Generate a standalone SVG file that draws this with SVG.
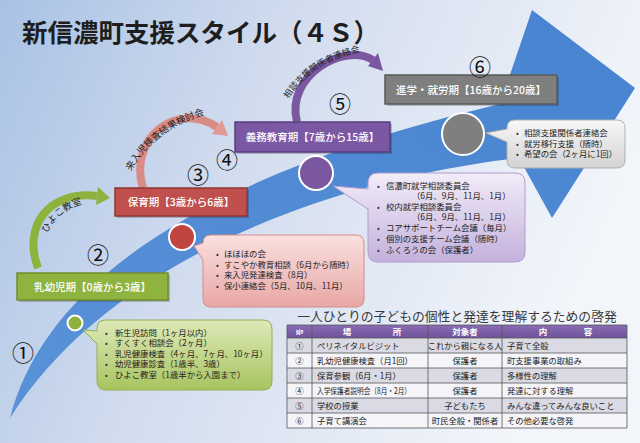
<svg xmlns="http://www.w3.org/2000/svg" width="640" height="443" viewBox="0 0 640 443">
<defs>
<linearGradient id="bg" x1="0" y1="0" x2="1" y2="0.3">
<stop offset="0" stop-color="#a9c2e4"/>
<stop offset="0.45" stop-color="#d3ddef"/>
<stop offset="1" stop-color="#f2f5fa"/>
</linearGradient>
<linearGradient id="arrowG" x1="0" y1="1" x2="1" y2="0">
<stop offset="0" stop-color="#5a92d8"/>
<stop offset="1" stop-color="#4783d0"/>
</linearGradient>
<linearGradient id="gG" x1="0" y1="0" x2="0" y2="1"><stop offset="0" stop-color="#dde9b8"/><stop offset="1" stop-color="#a7c45f"/></linearGradient>
<linearGradient id="gR" x1="0" y1="0" x2="0" y2="1"><stop offset="0" stop-color="#fae0df"/><stop offset="1" stop-color="#e8a7a5"/></linearGradient>
<linearGradient id="gP" x1="0" y1="0" x2="0" y2="1"><stop offset="0" stop-color="#f2ecf8"/><stop offset="1" stop-color="#c4b1dc"/></linearGradient>
<linearGradient id="gK" x1="0" y1="0" x2="0" y2="1"><stop offset="0" stop-color="#f8f8f8"/><stop offset="1" stop-color="#d2d2d2"/></linearGradient>
<linearGradient id="gH" x1="0" y1="0" x2="0" y2="1"><stop offset="0" stop-color="#8a6cb5"/><stop offset="1" stop-color="#6e5399"/></linearGradient>
<path id="tpG" d="M 45 241 Q 52 210 90 202"/>
<path id="tpR" d="M 126 182 Q 150 126 216 112"/>
<path id="tpP" d="M 284 108 Q 306 60 370 50"/>
</defs>
<style>
text{font-family:"Noto Sans CJK JP","Noto Sans",sans-serif;}
.title{font-size:25.5px;font-weight:700;fill:#1e1e1e;}
.lbl{font-size:10.5px;fill:#ffffff;text-anchor:middle;font-weight:500;}
.num{font-size:22px;fill:#111;text-anchor:middle;font-family:"Noto Sans CJK JP",sans-serif;}
.co{font-size:8.4px;fill:#222;}
.bul{font-size:8px;fill:#333;}
.arc{fill:none;stroke-width:8;}
.arct{font-size:9.5px;fill:#222;}
.head{font-size:12.8px;fill:#3a3a3a;text-anchor:middle;}
.th{font-size:8.5px;fill:#fff;font-weight:700;text-anchor:middle;}
.td{font-size:8.3px;fill:#222;}
.tdc{font-size:8.3px;fill:#222;text-anchor:middle;}
.ring{stroke:#ffffff;stroke-width:2;}
.grid{stroke:#555;stroke-width:0.8;fill:none;}
</style>
<rect x="0" y="0" width="640" height="443" fill="url(#bg)"/>
<g id="big-arrow">
<path d="M 10 418 C 40 300 170 182 500 104 L 532 10 L 635 88 L 552 218 L 519 158 C 330 180 110 260 10 418 Z" fill="url(#arrowG)"/>
</g>
<text class="title" x="22" y="42">新信濃町支援スタイル（４Ｓ）</text>
<g id="connectors">
<path class="arc" stroke="#8db33e" d="M 38 268 C 22 225 50 190 97 196"/>
<polygon fill="#8db33e" points="110,198 96,205 98,187"/>
<path class="arc" stroke="#d98b86" d="M 143 188 C 128 140 175 100 217 127"/>
<polygon fill="#e09a95" points="228,136 212,134 222,120"/>
<path class="arc" stroke="#7b57a0" d="M 297 122 C 285 75 345 42 373 60"/>
<polygon fill="#7b57a0" points="383,71 368,66 378,53"/>
<text class="arct"><textPath href="#tpG" startOffset="50%" text-anchor="middle">ひよこ教室</textPath></text>
<text class="arct"><textPath href="#tpR" startOffset="50%" text-anchor="middle">来入児検査結果検討会</textPath></text>
<text class="arct" style="font-size:8.8px"><textPath href="#tpP" startOffset="50%" text-anchor="middle">相談支援関係者連絡会</textPath></text>
</g>
<g id="stage1">
<rect x="19" y="275" width="151" height="27" fill="#000" opacity="0.2"/>
<rect x="17" y="273" width="151" height="27" fill="#8eb43f" stroke="#6f8d2e" stroke-width="1.5"/>
<text class="lbl" x="92.5" y="290.5">乳幼児期【0歳から3歳】</text>
<text class="num" x="23" y="361">①</text>
<circle class="ring" cx="75" cy="323" r="7.5" fill="#8db33e"/>
</g>
<g id="callout1">
<path d="M 106 320 H 263 Q 272 320 272 329 V 381 Q 272 390 263 390 H 106 Q 97 390 97 381 V 344 L 83 330 L 97 331 V 329 Q 97 320 106 320 Z" fill="url(#gG)" stroke="#94b054" stroke-width="1"/>
<text class="bul" x="105" y="336">•</text><text class="co" x="115" y="336">新生児訪問（1ヶ月以内）</text>
<text class="bul" x="105" y="346.4">•</text><text class="co" x="115" y="346.4">すくすく相談会（2ヶ月）</text>
<text class="bul" x="105" y="356.8">•</text><text class="co" x="115" y="356.8">乳児健康検査（4ヶ月、7ヶ月、10ヶ月）</text>
<text class="bul" x="105" y="367.2">•</text><text class="co" x="115" y="367.2">幼児健康診査（1歳半、3歳）</text>
<text class="bul" x="105" y="377.6">•</text><text class="co" x="115" y="377.6">ひよこ教室（1歳半から入園まで）</text>
</g>
<g id="stage2">
<rect x="117" y="190" width="132" height="28" fill="#000" opacity="0.2"/>
<rect x="115" y="188" width="132" height="28" fill="#c0504d" stroke="#8c3634" stroke-width="1.5"/>
<text class="lbl" x="181" y="205.5">保育期【3歳から6歳】</text>
<text class="num" x="98" y="263">②</text>
<text class="num" x="198" y="183">③</text>
<circle class="ring" cx="182" cy="237" r="13" fill="#c0443f"/>
</g>
<g id="callout2">
<path d="M 211 235 H 356 Q 364 235 364 243 V 299 Q 364 307 356 307 H 211 Q 203 307 203 299 V 260 L 194 246 L 203 243 Q 203 235 211 235 Z" fill="url(#gR)" stroke="#d28c8a" stroke-width="1"/>
<text class="bul" x="216" y="257">•</text><text class="co" x="224" y="257">ほほほの会</text>
<text class="bul" x="216" y="267.5">•</text><text class="co" x="224" y="267.5">すこやか教育相談（6月から随時）</text>
<text class="bul" x="216" y="278">•</text><text class="co" x="224" y="278">来入児発達検査（8月）</text>
<text class="bul" x="216" y="288.5">•</text><text class="co" x="224" y="288.5">保小連絡会（5月、10月、11月）</text>
</g>
<g id="stage3">
<rect x="237" y="124" width="155" height="30" fill="#000" opacity="0.2"/>
<rect x="235" y="122" width="155" height="30" fill="#7b58a3" stroke="#5a3e7d" stroke-width="1.5"/>
<text class="lbl" x="312.5" y="140.5">義務教育期【7歳から15歳】</text>
<text class="num" x="227" y="168">④</text>
<text class="num" x="340" y="112">⑤</text>
<circle class="ring" cx="316" cy="173" r="17" fill="#7b57a0"/>
</g>
<g id="callout3">
<path d="M 378 173 H 515 Q 525 173 525 183 V 252 Q 525 262 515 262 H 378 Q 368 262 368 252 V 209 L 333 186 L 368 189 V 183 Q 368 173 378 173 Z" fill="url(#gP)" stroke="#b09ccc" stroke-width="1"/>
<text class="bul" x="377" y="188.5">•</text><text class="co" x="386" y="188.5">信濃町就学相談委員会</text>
<text class="co" x="412" y="199">（6月、9月、11月、1月）</text>
<text class="bul" x="377" y="209.5">•</text><text class="co" x="386" y="209.5">校内就学相談委員会</text>
<text class="co" x="412" y="220">（6月、9月、11月、1月）</text>
<text class="bul" x="377" y="231">•</text><text class="co" x="386" y="231">コアサポートチーム会議（毎月）</text>
<text class="bul" x="377" y="241.5">•</text><text class="co" x="386" y="241.5">個別の支援チーム会議（随時）</text>
<text class="bul" x="377" y="252.5">•</text><text class="co" x="386" y="252.5">ふくろうの会（保護者）</text>
</g>
<g id="stage4">
<rect x="387" y="77" width="172" height="29" fill="#000" opacity="0.2"/>
<rect x="385" y="75" width="172" height="29" fill="#7f7f7f" stroke="#5a5a5a" stroke-width="1.5"/>
<text class="lbl" x="471" y="93.5">進学・就労期【16歳から20歳】</text>
<text class="num" x="480" y="75">⑥</text>
<circle class="ring" cx="463" cy="134" r="21" fill="#7f7f7f"/>
</g>
<g id="callout4">
<path d="M 515 120 H 617 Q 625 120 625 128 V 160 Q 625 168 617 168 H 515 Q 507 168 507 160 V 142 L 486 133 L 507 129 V 128 Q 507 120 515 120 Z" fill="url(#gK)" stroke="#b0b0b0" stroke-width="1"/>
<text class="bul" x="516" y="136">•</text><text class="co" x="524" y="136">相談支援関係者連絡会</text>
<text class="bul" x="516" y="146.5">•</text><text class="co" x="524" y="146.5">就労移行支援（随時）</text>
<text class="bul" x="516" y="157">•</text><text class="co" x="524" y="157">希望の会（2ヶ月に1回）</text>
</g>
<g id="table">
<text class="head" x="457" y="321">一人ひとりの子どもの個性と発達を理解するための啓発</text>
<rect x="287" y="325" width="340" height="13" fill="url(#gH)"/>
<rect x="287" y="338" width="340" height="15" fill="#dadae4"/>
<rect x="287" y="353" width="340" height="15" fill="#f5f5f9"/>
<rect x="287" y="368" width="340" height="15" fill="#dadae4"/>
<rect x="287" y="383" width="340" height="15" fill="#f5f5f9"/>
<rect x="287" y="398" width="340" height="15" fill="#dadae4"/>
<rect x="287" y="413" width="340" height="15" fill="#f5f5f9"/>
<path class="grid" d="M 287 325 H 627 V 428 H 287 Z M 287 338 H 627 M 287 353 H 627 M 287 368 H 627 M 287 383 H 627 M 287 398 H 627 M 287 413 H 627 M 312 325 V 428 M 428 325 V 428 M 502 325 V 428"/>
<text class="th" x="299.5" y="334.5" style="font-size:7px">№</text>
<text class="th" x="347" y="334.5">場</text><text class="th" x="397" y="334.5">所</text>
<text class="th" x="465" y="334.5">対象者</text>
<text class="th" x="543" y="334.5">内</text><text class="th" x="588" y="334.5">容</text>
<text class="tdc" x="299.5" y="348.5">①</text>
<text class="tdc" x="299.5" y="363.5">②</text>
<text class="tdc" x="299.5" y="378.5">③</text>
<text class="tdc" x="299.5" y="393.5">④</text>
<text class="tdc" x="299.5" y="408.5">⑤</text>
<text class="tdc" x="299.5" y="423.5">⑥</text>
<text class="td" x="317" y="348.5">ペリネイタルビジット</text>
<text class="td" x="317" y="363.5">乳幼児健康検査（月1回）</text>
<text class="td" x="317" y="378.5">保育参観（6月・1月）</text>
<text class="td" x="317" y="393.5" textLength="94" lengthAdjust="spacingAndGlyphs">入学保護者説明会（8月・2月）</text>
<text class="td" x="317" y="408.5">学校の授業</text>
<text class="td" x="317" y="423.5">子育て講演会</text>
<text class="tdc" x="465" y="348.5">これから親になる人</text>
<text class="tdc" x="465" y="363.5">保護者</text>
<text class="tdc" x="465" y="378.5">保護者</text>
<text class="tdc" x="465" y="393.5">保護者</text>
<text class="tdc" x="465" y="408.5">子どもたち</text>
<text class="tdc" x="465" y="423.5">町民全般・関係者</text>
<text class="td" x="507" y="348.5">子育て全般</text>
<text class="td" x="507" y="363.5">町支援事業の取組み</text>
<text class="td" x="507" y="378.5">多様性の理解</text>
<text class="td" x="507" y="393.5">発達に対する理解</text>
<text class="td" x="507" y="408.5">みんな違ってみんな良いこと</text>
<text class="td" x="507" y="423.5">その他必要な啓発</text>
</g>
</svg>
